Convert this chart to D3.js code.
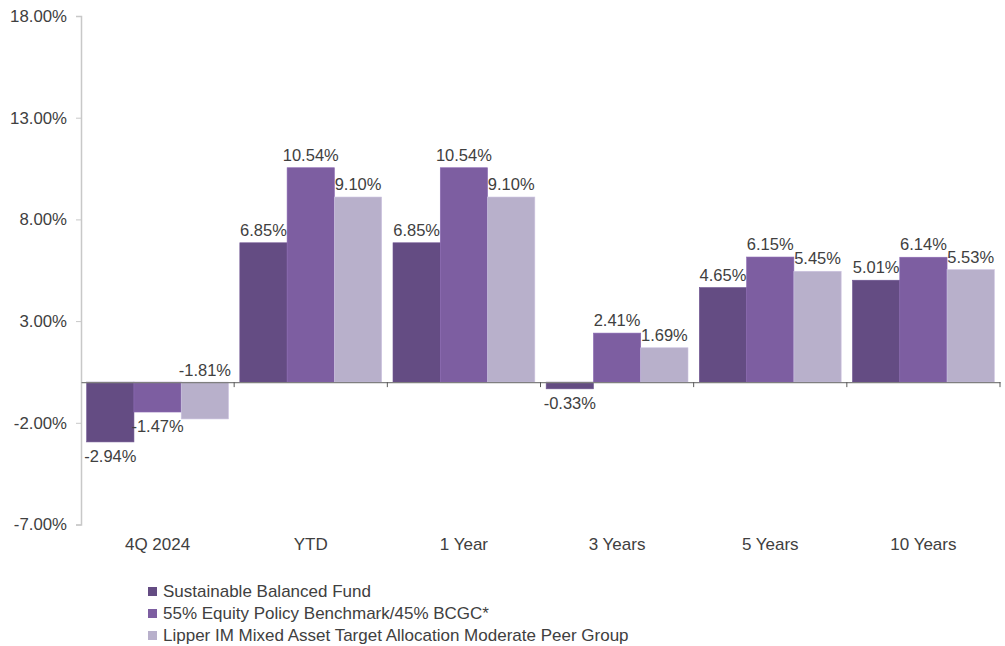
<!DOCTYPE html>
<html>
<head>
<meta charset="utf-8">
<script src="https://cdn.jsdelivr.net/npm/d3@7"></script>
<style>
  body { margin: 0; background: #fff; }
  svg text { font-family: "Liberation Sans", Arial, sans-serif; fill: #404040; }
</style>
</head>
<body>
<div id="chart"></div>
<script>
// data
var categories = ["4Q 2024", "YTD", "1 Year", "3 Years", "5 Years", "10 Years"];
var seriesNames = ["Sustainable Balanced Fund",
                   "55% Equity Policy Benchmark/45% BCGC*",
                   "Lipper IM Mixed Asset Target Allocation Moderate Peer Group"];
var fundValues = [-2.94, 6.85, 6.85, -0.33, 4.65, 5.01];
var benchValues = [-1.47, 10.54, 10.54, 2.41, 6.15, 6.14];
var peerValues = [-1.81, 9.10, 9.10, 1.69, 5.45, 5.53];
var yTicks = [-7, -2, 3, 8, 13, 18];

var colors = ["#644c83", "#7d5ea1", "#b8b0cb"];
var allSeries = [fundValues, benchValues, peerValues];

var W = 1005, H = 646;
var plotLeft = 81, plotRight = 1000, plotTop = 16, plotBottom = 524.5;

var svg = d3.select("#chart").append("svg")
            .attr("width", W)
            .attr("height", H);

var y = d3.scaleLinear().domain([-7, 18]).range([plotBottom, plotTop]);
var x0 = d3.scaleBand().domain(categories).range([plotLeft, plotRight]).paddingInner(0.074).paddingOuter(0.037);
var x1 = d3.scaleBand().domain(d3.range(seriesNames.length)).range([0, x0.bandwidth()]);

// y axis
var yAxis = d3.axisLeft(y).tickValues(yTicks).tickSize(5).tickPadding(9)
              .tickFormat(function(d) { return d.toFixed(2) + "%"; });
var gy = svg.append("g").attr("transform", "translate(" + plotLeft + ",0)").call(yAxis);
gy.select(".domain").attr("stroke", "#c8c8c8").attr("stroke-width", 1.5);
gy.selectAll(".tick line").attr("stroke", "#c8c8c8");
gy.selectAll(".tick text").style("font-size", "16.8px").attr("fill", "#404040")
  .style("font-family", "Liberation Sans, Arial, sans-serif");

// bars
var rows = categories.map(function(c, i) {
  return allSeries.map(function(s, j) { return {cat: c, s: j, v: s[i]}; });
});

var groups = svg.append("g").selectAll("g")
  .data(rows).enter().append("g")
  .attr("transform", function(d, i) { return "translate(" + x0(categories[i]) + ",0)"; });

groups.selectAll("rect")
  .data(function(d) { return d; })
  .enter().append("rect")
  .attr("x", function(d) { return x1(d.s); })
  .attr("width", x1.bandwidth())
  .attr("y", function(d) { return y(Math.max(0, d.v)); })
  .attr("height", function(d) { return Math.abs(y(d.v) - y(0)); })
  .attr("fill", function(d) { return colors[d.s]; })
  .attr("stroke", function(d) { return d3.color(colors[d.s]).brighter(0.3); })
  .attr("stroke-width", 0.6);

// x axis on zero line
var xAxis = d3.axisBottom(x0).tickSize(0).tickFormat("");
var gx = svg.append("g").attr("transform", "translate(0," + y(0) + ")").call(xAxis);
gx.select(".domain").attr("stroke", "#7f7f7f").attr("stroke-width", 1.2);
// separators between categories
var seps = categories.map(function(c) { return x0(c) + x0.bandwidth() + x0.step() * x0.paddingInner() / 2; });
gx.selectAll(".sep").data(seps).enter().append("line")
  .attr("x1", function(d) { return d; }).attr("x2", function(d) { return d; })
  .attr("y1", 0).attr("y2", 5)
  .attr("stroke", "#595959").attr("stroke-width", 1);

// category labels
svg.append("g").selectAll("text")
  .data(categories).enter().append("text")
  .attr("x", function(d) { return x0(d) + x0.bandwidth() / 2; })
  .attr("y", 550)
  .attr("text-anchor", "middle")
  .style("font-size", "17px")
  .text(function(d) { return d; });

// value labels: outside end; a negative label that would hit its neighbour goes above zero
var placed = [];
rows.forEach(function(row, i) {
  row.forEach(function(d) {
    var cx = x0(d.cat) + x1(d.s) + x1.bandwidth() / 2;
    var txt = d.v.toFixed(2) + "%";
    var w = txt.length * 9;
    var ty;
    if (d.v >= 0) {
      ty = y(d.v) - 7;
    } else {
      ty = y(d.v) + 20;
      var clash = placed.some(function(p) {
        return Math.abs(p.x - cx) < (p.w + w) / 2 && Math.abs(p.y - ty) < 15;
      });
      if (clash) ty = y(0) - 6;
    }
    placed.push({x: cx, y: ty, w: w});
    svg.append("text")
       .attr("x", cx)
       .attr("y", ty)
       .attr("text-anchor", "middle")
       .style("font-size", "16.5px")
       .text(txt);
  });
});

// legend
var legend = svg.append("g").attr("transform", "translate(148,586)");
var li = legend.selectAll("g").data(seriesNames).enter().append("g")
  .attr("transform", function(d, i) { return "translate(0," + (i * 22) + ")"; });
li.append("rect").attr("width", 9).attr("height", 9).attr("y", 1)
  .attr("fill", function(d, i) { return colors[i]; });
li.append("text").attr("x", 15).attr("y", 10.5)
  .style("font-size", "17px")
  .text(function(d) { return d; });
</script>
</body>
</html>
